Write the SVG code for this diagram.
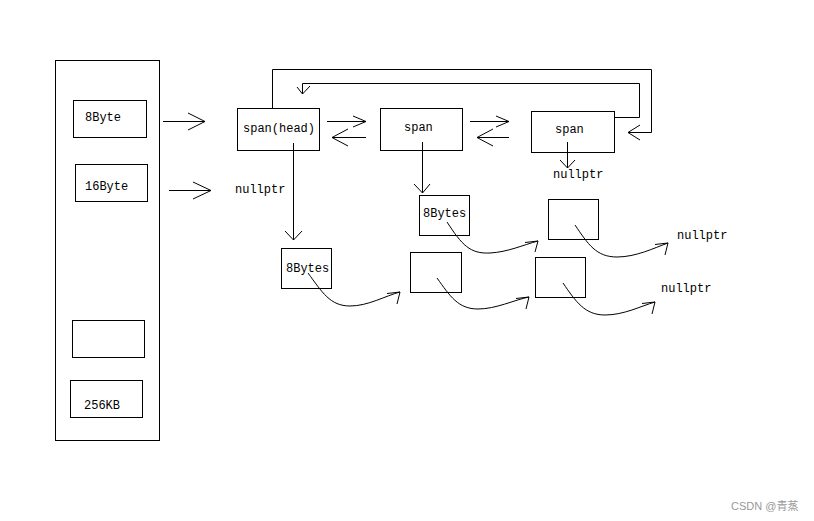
<svg xmlns="http://www.w3.org/2000/svg" width="814" height="521" viewBox="0 0 814 521">
<style>
.b{fill:none;stroke:#000;stroke-width:1}
.t{font-family:"Liberation Mono",monospace;font-size:12px;fill:#000}
.w{font-family:"Liberation Sans","Noto Sans CJK SC",sans-serif;font-size:11px;fill:#999}
</style>
<rect width="814" height="521" fill="#fff"/>
<g id="freelist">
<rect class="b" x="55.5" y="60.5" width="104" height="380"/>
</g>
<g id="n8byte"><rect class="b" x="73.5" y="100.5" width="73" height="37"/><text class="t" x="85" y="121">8Byte</text></g>
<g id="n16byte"><rect class="b" x="75.5" y="164.5" width="72" height="37"/><text class="t" x="85" y="190">16Byte</text></g>
<g id="nempty"><rect class="b" x="72.5" y="320.5" width="72" height="37"/></g>
<g id="n256"><rect class="b" x="70.5" y="380.5" width="72" height="37"/><text class="t" x="84" y="409">256KB</text></g>
<g id="spanhead"><rect class="b" x="237.5" y="108.5" width="82" height="42"/><text class="t" x="243" y="132">span(head)</text></g>
<g id="span2"><rect class="b" x="380.5" y="108.5" width="82" height="42"/><text class="t" x="404" y="131">span</text></g>
<g id="span3"><rect class="b" x="531.5" y="111.5" width="83" height="41"/><text class="t" x="555" y="133">span</text></g>
<g id="obj1"><rect class="b" x="419.5" y="195.5" width="50" height="40"/><text class="t" x="423" y="217">8Bytes</text></g>
<g id="obj2"><rect class="b" x="281.5" y="248.5" width="50" height="40"/><text class="t" x="286" y="272">8Bytes</text></g>
<g id="obj3"><rect class="b" x="410.5" y="252.5" width="51" height="40"/></g>
<g id="obj4"><rect class="b" x="548.5" y="199.5" width="50" height="40"/></g>
<g id="obj5"><rect class="b" x="535.5" y="257.5" width="50" height="40"/></g>
<g id="labels">
<text class="t" x="235" y="193">nullptr</text>
<text class="t" x="553" y="178">nullptr</text>
<text class="t" x="677" y="239">nullptr</text>
<text class="t" x="661" y="292">nullptr</text>
</g>
<g id="connectors" class="b">
<path d="M163,121.5H205M188,113L205,121.5L188,130"/>
<path d="M169,190.5H211M193,182L211,190.5L193,199"/>
<path d="M327,121.5H366M353,116L366,121.5L353,127"/>
<path d="M332,137.5H366M348,129L332,137.5L348,146"/>
<path d="M470,121.5H509M496,116L509,121.5L496,127"/>
<path d="M477,137.5H509M493,129L477,137.5L493,146"/>
<path d="M272.5,108V69.5H651.5V132.5H628M640,125L628,132.5L640,140"/>
<path d="M614,117.5H639.5V83.5H302.5V94M297,87L302.5,94L310,86"/>
<path d="M293.5,143V240M285,231L293.5,240L302,231"/>
<path d="M422.5,142V193M414,184L422.5,193L430,184"/>
<path d="M567.5,142V168M560,160L567.5,168L575,160"/>
<path d="M447,222C462,245 470,254 490,253C508,252 523,245 538,241M525,242.5L538,241L535,252"/>
<path d="M308,273C322,292 330,306 350,306C368,306 385,296 400,292M387,293.5L400,292L397,304"/>
<path d="M437,278C450,296 458,309 478,309C496,309 514,300 529,297M516,298.5L529,297L526,309"/>
<path d="M575,225C588,244 596,257 617,257C636,257 654,248 668,243M655,244.5L668,243L665,255"/>
<path d="M563,283C576,302 585,315 605,315C624,315 641,306 655,302M642,303.5L655,302L652,314"/>
</g>
<text class="w" x="731" y="510">CSDN @青蒸</text>
</svg>
